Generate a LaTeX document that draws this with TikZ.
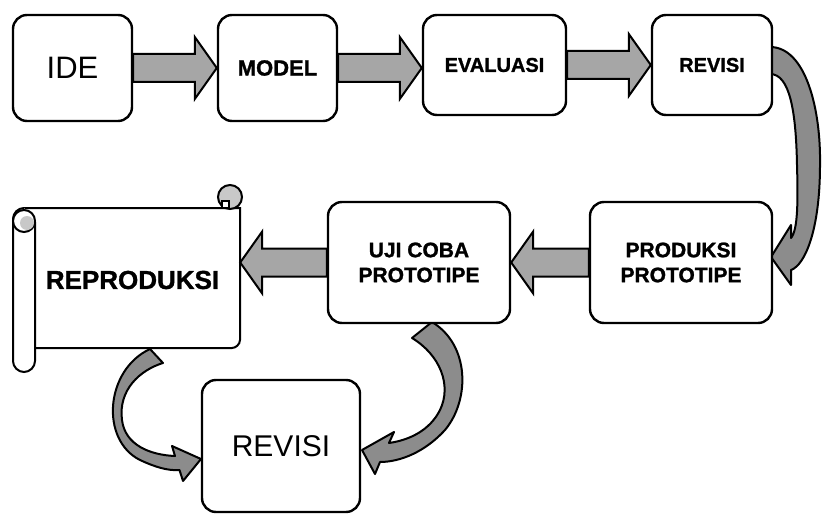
\documentclass[tikz,border=0pt]{standalone}
\usepackage{fontspec}
\setmainfont{Liberation Sans}[BoldFeatures={FakeBold=1.2}]
\usetikzlibrary{calc,backgrounds}

\definecolor{arrowgray}{HTML}{A6A6A6}
\definecolor{bendgray}{HTML}{8C8C8C}
\definecolor{curlgray}{HTML}{C8C8C8}

\tikzset{
  stage/.style={draw,line width=2.4pt,rounded corners=14pt,fill=white,align=center,
    font=\bfseries\fontsize{21}{25}\selectfont},
  blockarr/.style={draw,line width=2pt,fill=arrowgray,line join=miter},
  bendarr/.style={draw,line width=2pt,fill=bendgray,line join=round},
  scroll/.style={draw,line width=2pt,fill=white},
}

% straight block arrow from one anchor to another (horizontal)
\newcommand{\blockarrow}[2]{%
  \draw[blockarr] let \p1=(#1), \p2=(#2), \n1={sign(\x2-\x1)} in
    (\x1,\y1+14pt) -- (\x2-\n1*22pt,\y1+14pt) -- (\x2-\n1*22pt,\y1+31pt)
    -- (\x2,\y1) -- (\x2-\n1*22pt,\y1-31pt) -- (\x2-\n1*22pt,\y1-14pt)
    -- (\x1,\y1-14pt) -- cycle;}

\begin{document}
\begin{tikzpicture}[x=1pt,y=-1pt]
  \useasboundingbox (0,0) rectangle (822,516);
  % top row
  \node[stage,minimum width=119pt,minimum height=106pt,font=\fontsize{31}{36}\selectfont] (ide) at (72.5,68) {IDE};
  \node[stage,minimum width=119pt,minimum height=106pt,font=\bfseries\fontsize{22}{26}\selectfont] (model) at (277.5,68) {MODEL};
  \node[stage,minimum width=143pt,minimum height=100pt,font=\bfseries\fontsize{20}{24}\selectfont] (evaluasi) at (494.5,65) {EVALUASI};
  \node[stage,minimum width=120pt,minimum height=100pt,font=\bfseries\fontsize{20}{24}\selectfont] (revisi) at (712,65) {REVISI};
  % middle row
  \node[stage,minimum width=182pt,minimum height=121pt] (produksi) at (681,262.5) {PRODUKSI\\PROTOTIPE};
  \node[stage,minimum width=182pt,minimum height=121pt] (uji) at (419,262.5) {UJI COBA\\PROTOTIPE};
  % scroll
  \draw[scroll] (24,208) -- (240,208) -- (240,340) .. controls (240,344.4) and (235.6,348) .. (232,348) -- (35,348);
  \draw[scroll] (24,208) .. controls (18,208) and (13,213) .. (13,219) -- (13,361)
    .. controls (13,367) and (18,372) .. (24,372) .. controls (30,372) and (35,367) .. (35,361) -- (35,222);
  \draw[scroll] (24,221) circle (11pt);
  \fill[curlgray] (27,223) circle (7pt);
  \draw[scroll,fill=curlgray] (230,197) circle (12pt);
  \draw[line width=1.5pt,fill=white] (222,201) rectangle (229,208);
  \node[font=\bfseries\fontsize{26}{31}\selectfont,minimum width=215pt,minimum height=140pt] (reproduksi) at (132.5,280) {REPRODUKSI};
  % bottom box
  \node[stage,minimum width=158pt,minimum height=132pt,font=\fontsize{30}{36}\selectfont] (revisiakhir) at (281,446) {REVISI};
  % straight arrows
  \blockarrow{ide.east}{model.west}
  \blockarrow{model.east}{evaluasi.west}
  \blockarrow{evaluasi.east}{revisi.west}
  \blockarrow{produksi.west}{uji.east}
  \blockarrow{uji.west}{reproduksi.east}
  % bent arrows
  \begin{scope}[on background layer]
    \draw[bendarr] (770,47) .. controls (806,47) and (821,110) .. (820,165)
      .. controls (820,230) and (805,265) .. (791,270) -- (791,285) -- (771,257) -- (791,225) -- (791,238)
      .. controls (798,230) and (798,200) .. (797,165)
      .. controls (796,112) and (790,74) .. (770,74) -- cycle;
    \draw[bendarr] (150,349) .. controls (105,370) and (100,440) .. (140,460)
      .. controls (155,467) and (168,471) .. (179.5,470) -- (183,481) -- (201,459) -- (172,446) -- (175,456)
      .. controls (150,455) and (125,445) .. (122,420)
      .. controls (118,390) and (140,370) .. (163,363) -- cycle;
    \draw[bendarr] (432,322) .. controls (470,345) and (470,400) .. (445,430)
      .. controls (425,452) and (400,462) .. (380,462) -- (375,474) -- (362,450) -- (394,432) -- (389,443)
      .. controls (410,440) and (430,430) .. (440,410)
      .. controls (452,385) and (440,355) .. (412,338) -- cycle;
  \end{scope}
\end{tikzpicture}
\end{document}
